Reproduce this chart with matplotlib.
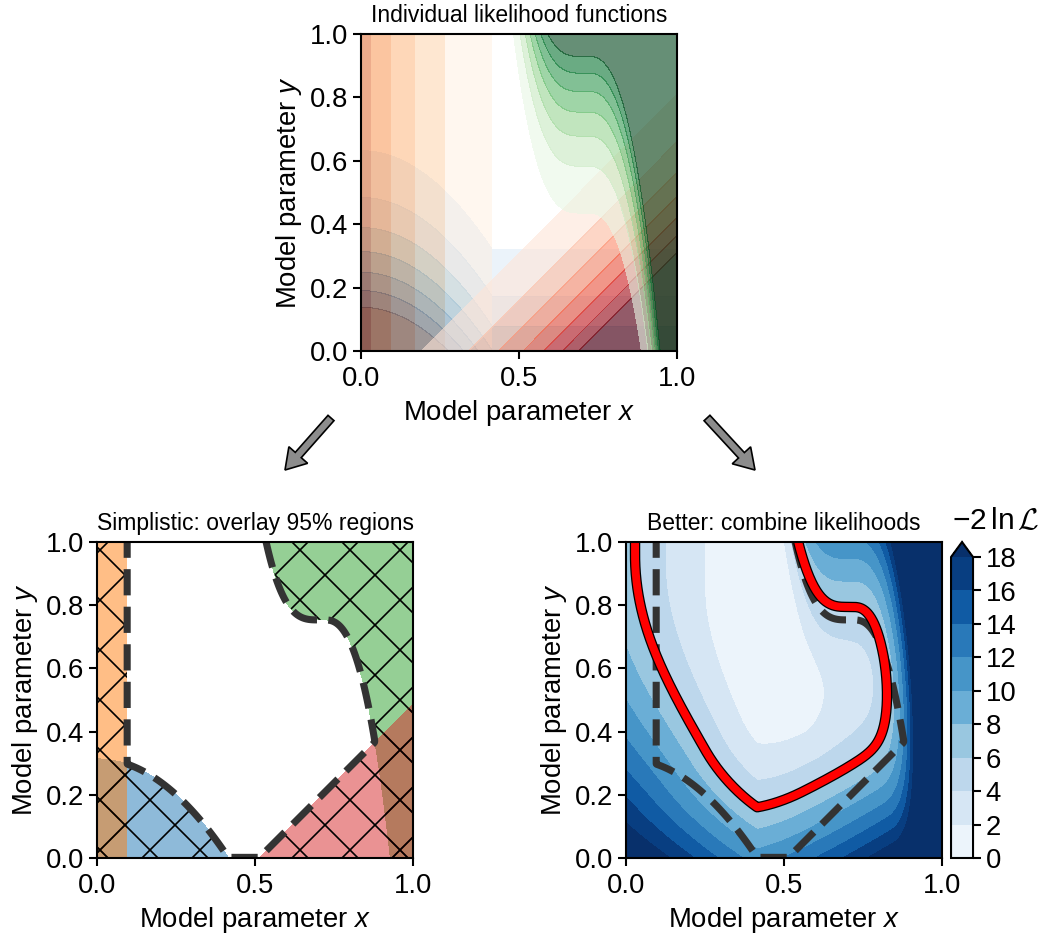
import numpy as np
import matplotlib
matplotlib.use('Agg')
import matplotlib.pyplot as plt
import matplotlib.patheffects as pe
from matplotlib.patches import FancyArrow

plt.rcParams['font.family'] = ['Liberation Sans', 'DejaVu Sans']
plt.rcParams['mathtext.fontset'] = 'custom'
plt.rcParams['mathtext.rm'] = 'Liberation Sans'
plt.rcParams['mathtext.it'] = 'Liberation Sans:italic'
plt.rcParams['mathtext.cal'] = 'cmsy10'
plt.rcParams['font.size'] = 6.6
plt.rcParams['axes.linewidth'] = 0.5
plt.rcParams['xtick.major.size'] = 2
plt.rcParams['ytick.major.size'] = 2
plt.rcParams['xtick.major.width'] = 0.5
plt.rcParams['ytick.major.width'] = 0.5
plt.rcParams['xtick.major.pad'] = 1.5
plt.rcParams['ytick.major.pad'] = 1.0
plt.rcParams['hatch.linewidth'] = 0.4
plt.rcParams['hatch.color'] = 'black'

# likelihood shapes: chi2 = (slope * distance past the zero line)^2
orange_x0, orange_slope = 0.557, 4.65
blue_u0, blue_slope, blue_xclip = 0.776, 4.64, 0.415
red_w0, red_slope = 0.046, 4.6
green_v0, green_slope = -0.459, 4.64
green_knee = [0.70, 0.72, 0.75]      # plateau start, plateau end, plateau height
green_coef = [55.0, 38.0]
# widths used in the combined likelihood
blue_u0_comb, blue_slope_comb = 0.96, 3.97
red_w0_comb, red_slope_comb = -0.088, 3.97
green_v0_comb = -0.485

lik_ratio = [0.8, 0.4, 0.2, 0.1, 0.05, 0.025, 0.0125]   # L/Lmax contour levels (top)
cl_individual = 0.1
cl_combined = 0.05
comb_levels = np.arange(0, 19, 2)

names = ['blue', 'orange', 'green', 'red']
fills = {'blue': 'tab:blue', 'orange': 'tab:orange', 'green': 'tab:green', 'red': 'tab:red'}
# top panel styling: colormap, colour positions of the 7 bands, alpha (drawn in this order)
even = list(np.linspace(0.1, 1.0, 7))
top_style = [('blue', 'Blues', even, 0.7),
             ('orange', 'Oranges', [0.06, 0.27, 0.4, 0.55, 0.75, 0.875, 1.0], 0.45),
             ('red', 'Reds', even, 0.6),
             ('green', 'Greens', even, 0.6)]

t_ind = -2 * np.log(cl_individual)
t_comb = -2 * np.log(cl_combined)
top_levels = list(-2 * np.log(lik_ratio)) + [1e4]
blue_a = (blue_u0 - np.sqrt(t_ind) / blue_slope - 0.002) / blue_xclip**2


def green_curve(x):
    xl, xr, y0 = green_knee
    return (y0 + green_coef[0] * np.clip(xl - x, 0, None)**3
            - green_coef[1] * np.clip(x - xr, 0, None)**2.5)


def chi2(name, x, y, comb=False):
    if name == 'orange':
        return (orange_slope * np.clip(orange_x0 - x, 0, None))**2 + 0 * y
    if name == 'blue':
        u0, g = (blue_u0_comb, blue_slope_comb) if comb else (blue_u0, blue_slope)
        u = y + blue_a * np.minimum(x, blue_xclip)**2
        return (g * np.clip(u0 - u, 0, None))**2
    if name == 'red':
        w0, g = (red_w0_comb, red_slope_comb) if comb else (red_w0, red_slope)
        return (g * np.clip(x - y - w0, 0, None))**2
    v0 = green_v0_comb if comb else green_v0
    v = y - green_curve(x)
    return (green_slope * np.clip(v - v0, 0, None))**2


g = np.linspace(0, 1, 401)
X, Y = np.meshgrid(g, g)
ind = {n: chi2(n, X, Y) for n in names}
excl = np.max([ind[n] for n in names], axis=0)
total = sum(chi2(n, X, Y, comb=True) for n in names)
total = total - total.min()

W, H = 1043, 934
fig = plt.figure(figsize=(W / 300 + 1e-4, H / 300 + 1e-4), dpi=300)


def add_ax(left, top, w=316, h=317):
    return fig.add_axes([left / W, (H - top - h) / H, w / W, h / H])


ax_top = add_ax(361, 34)
ax_l = add_ax(97, 542, h=316)
ax_r = add_ax(626, 542, h=316)
cax = add_ax(951, 542, w=22, h=316)

# top: individual likelihoods
for n, cm, pos, a in top_style:
    cols = plt.get_cmap(cm)(pos)
    ax_top.contourf(X, Y, ind[n], levels=top_levels, colors=cols, alpha=a,
                    antialiased=False)
ax_top.set_title('Individual likelihood functions', fontsize=5.5, pad=2.8)

# bottom left: overlay of 95% regions
for n in names:
    ax_l.contourf(X, Y, ind[n], levels=[t_ind, 1e4], colors=[fills[n]], alpha=0.5)
    ax_l.contourf(X, Y, ind[n], levels=[t_ind, 1e4], colors='none', hatches=['xx'])
ax_l.set_title('Simplistic: overlay 95% regions', fontsize=5.5, pad=2.8)

# bottom right: combined likelihood
cf = ax_r.contourf(X, Y, total, levels=comb_levels, cmap='Blues', extend='max')
ax_r.set_title('Better: combine likelihoods', fontsize=5.5, pad=2.8)
rc = ax_r.contour(X, Y, total, levels=[t_comb], colors='red', linewidths=1.9)
rc.set_path_effects([pe.Stroke(linewidth=2.5, foreground='k'), pe.Normal()])

for ax in (ax_l, ax_r):
    ax.contour(X, Y, excl, levels=[t_ind], colors='0.2', linewidths=1.7,
               linestyles='--', zorder=1.5)

cb = fig.colorbar(cf, cax=cax, ticks=comb_levels)
cb.outline.set_linewidth(0.5)
cax.tick_params(length=2, width=0.5, pad=1.0)
fig.text(996 / W, (H - 529) / H, r'$-2\,\ln\mathcal{L}$', ha='center',
         va='baseline', fontsize=7.2)

for ax in (ax_top, ax_l, ax_r):
    ax.set_xlim(0, 1)
    ax.set_ylim(0, 1)
    ax.set_xticks([0, 0.5, 1.0])
    ax.set_yticks([0, 0.2, 0.4, 0.6, 0.8, 1.0])
    ax.set_xlabel('Model parameter $x$', labelpad=1.5)
    ax.set_ylabel('Model parameter $y$', labelpad=1.5)

# arrows from the top panel to the two bottom panels
for tail, tip in [((331, 418), (285, 470)), ((707, 418), (755, 470))]:
    x0, y0 = tail[0] / 300, (H - tail[1]) / 300
    dx, dy = (tip[0] - tail[0]) / 300, -(tip[1] - tail[1]) / 300
    fig.patches.append(FancyArrow(x0, y0, dx, dy, width=8 / 300, head_width=25 / 300,
                                  head_length=20 / 300, length_includes_head=True,
                                  transform=fig.dpi_scale_trans, facecolor='0.55',
                                  edgecolor='k', linewidth=0.4))

fig.savefig('out.png', dpi=300)
